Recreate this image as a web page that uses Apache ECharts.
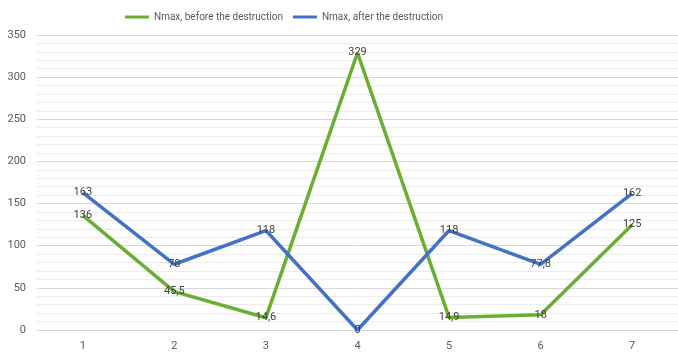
<!DOCTYPE html>
<html>
<head>
<meta charset="utf-8">
<script src="https://cdn.jsdelivr.net/npm/echarts@6/dist/echarts.min.js"></script>
<style>
  html, body { margin: 0; padding: 0; background: #fff; }
  #chart { width: 678px; height: 354px; }
</style>
</head>
<body>
<div id="chart"></div>
<script>
// Sample numbers along the x axis
const categories = ['1', '2', '3', '4', '5', '6', '7'];
// Nmax before and after the destruction
const nmaxBefore = [136, 45.5, 14.6, 329, 14.9, 18, 125];
const nmaxAfter = [163, 78, 118, 0, 118, 77.8, 162];
const seriesNames = ['Nmax, before the destruction', 'Nmax, after the destruction'];

const FONT = 'Roboto';
// Decimal comma in the point labels
const fmt = p => String(p.value).replace('.', ',');

const pointLabel = {
  show: true,
  position: 'inside',
  color: '#404040',
  fontSize: 11,
  fontFamily: FONT,
  formatter: fmt
};

const chart = echarts.init(document.getElementById('chart'));
chart.setOption({
  animation: false,
  textStyle: { fontFamily: FONT },
  legend: {
    top: 7,
    left: 120,
    itemWidth: 24,
    itemHeight: 3,
    itemGap: 10,
    icon: 'rect',
    textStyle: { color: '#595959', fontSize: 10, fontFamily: FONT },
    data: seriesNames
  },
  grid: { left: 37, width: 650, top: 35, bottom: 24, containLabel: false },
  xAxis: {
    type: 'category',
    data: categories,
    boundaryGap: true,
    axisLine: { show: true, lineStyle: { color: '#d9d9d9' } },
    axisTick: { show: false },
    axisLabel: { color: '#595959', fontSize: 11, margin: 11 }
  },
  yAxis: {
    type: 'value',
    min: 0,
    max: 350,
    interval: 50,
    axisLine: { show: false },
    axisTick: { show: false },
    axisLabel: { color: '#595959', fontSize: 11, margin: 11 },
    splitLine: { lineStyle: { color: '#d9d9d9', width: 1 } },
    minorTick: { show: false, splitNumber: 5 },
    minorSplitLine: { show: true, lineStyle: { color: '#ececec', width: 1 } }
  },
  series: [
    {
      name: seriesNames[0],
      type: 'line',
      data: nmaxBefore,
      symbol: 'circle',
      symbolSize: 0,
      showSymbol: true,
      lineStyle: { color: '#6aae32', width: 3.5 },
      itemStyle: { color: '#6aae32' },
      label: pointLabel
    },
    {
      name: seriesNames[1],
      type: 'line',
      data: nmaxAfter,
      symbol: 'circle',
      symbolSize: 0,
      showSymbol: true,
      lineStyle: { color: '#4472c4', width: 3.5 },
      itemStyle: { color: '#4472c4' },
      label: pointLabel
    }
  ]
});
</script>
</body>
</html>
